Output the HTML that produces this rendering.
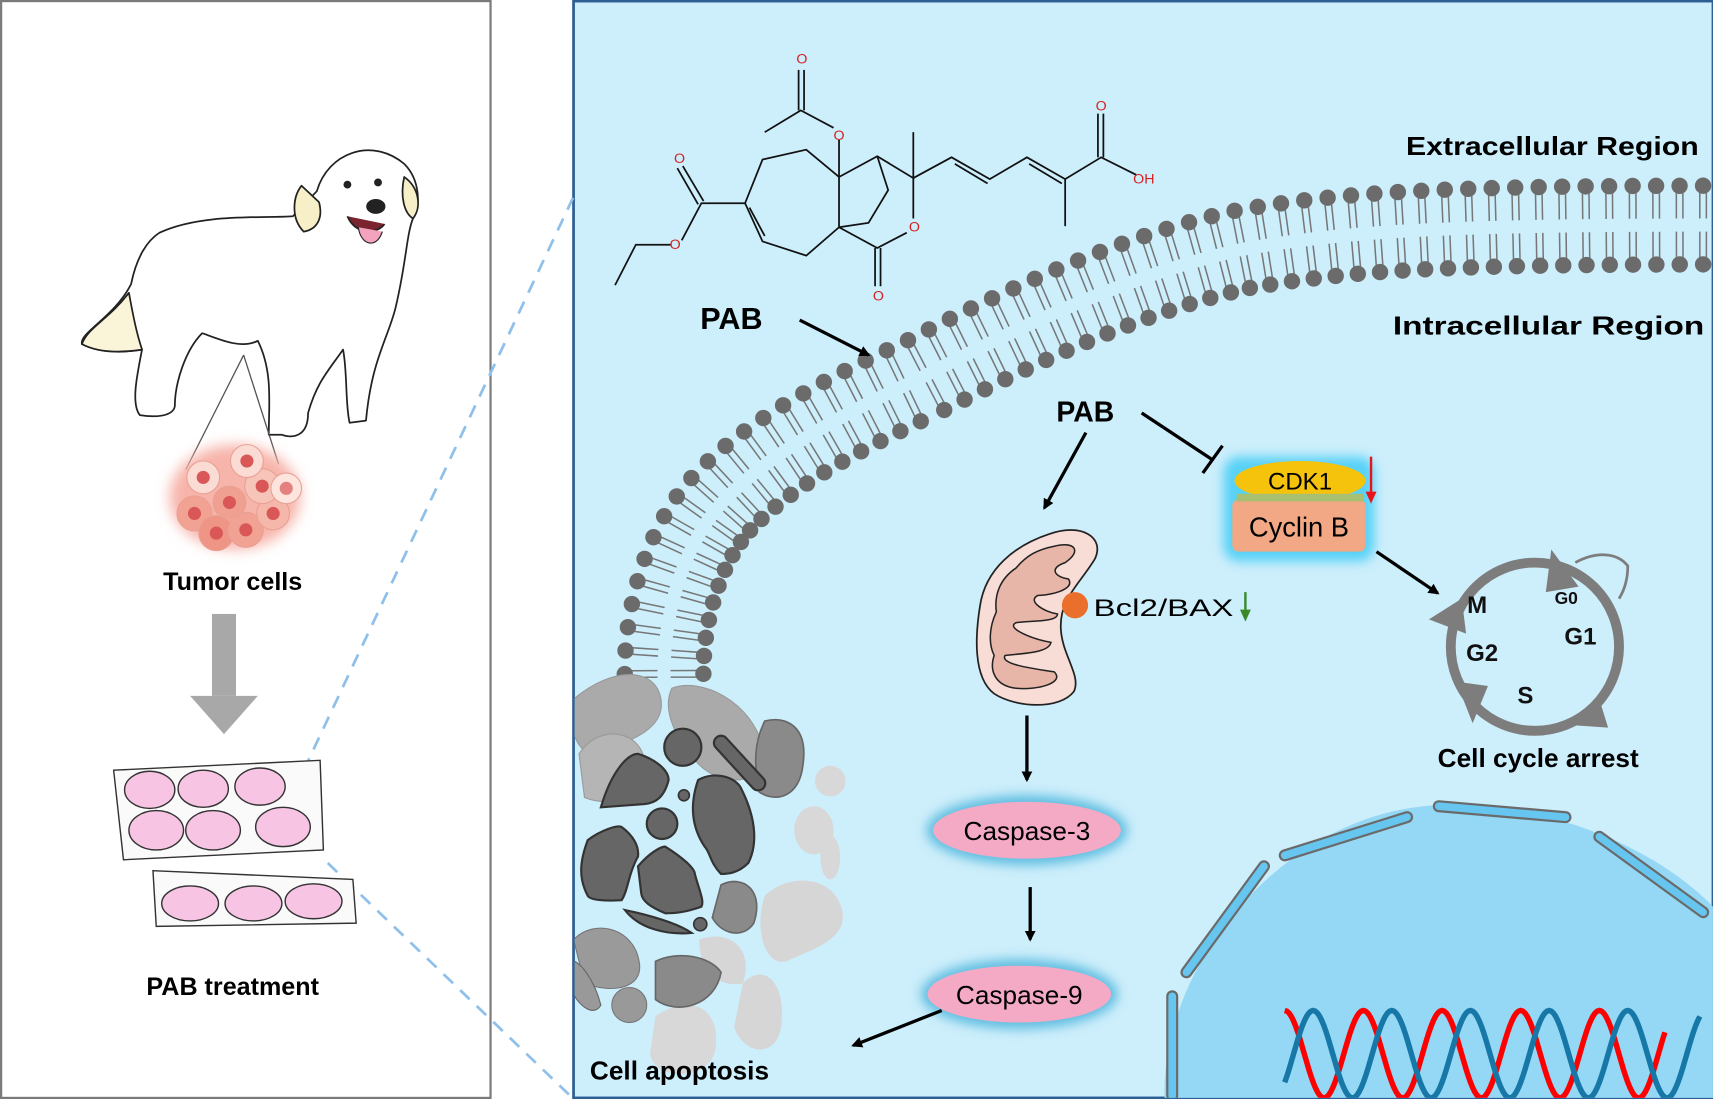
<!DOCTYPE html>
<html><head><meta charset="utf-8"><style>
html,body{margin:0;padding:0;background:#fff;}
svg{display:block;}
text{font-family:"Liberation Sans",Arial,sans-serif;}
</style></head><body>
<svg id="s" width="1713" height="1099" viewBox="0 0 1568 1006" xmlns="http://www.w3.org/2000/svg">
<defs>
<filter id="glow" x="-30%" y="-50%" width="160%" height="200%"><feGaussianBlur stdDeviation="5"/></filter>
<filter id="soft" x="-50%" y="-50%" width="200%" height="200%"><feGaussianBlur stdDeviation="6"/></filter>
<marker id="ah" markerWidth="10" markerHeight="10" refX="8" refY="5" orient="auto" markerUnits="userSpaceOnUse"><path d="M0,0 L10,5 L0,10 Z" fill="#000"/></marker>
<clipPath id="rc"><rect x="526" y="1" width="1042" height="1004"/></clipPath>
</defs>
<rect x="1" y="1" width="448" height="1004" fill="#fff" stroke="#7a7a7a" stroke-width="2"/>
<rect x="525" y="1" width="1043" height="1004" fill="#cdeefb" stroke="#2d5e94" stroke-width="2.5"/>
<line x1="278" y1="705" x2="525" y2="180" stroke="#8fc0ea" stroke-width="2.5" stroke-dasharray="12,9"/>
<line x1="300" y1="790" x2="525" y2="1006" stroke="#8fc0ea" stroke-width="2.5" stroke-dasharray="12,9"/>

<g stroke="#222" stroke-width="1.6" stroke-linejoin="round">
<path d="M146,213 C185,195 240,200 268,198 L290,175 C300,140 340,125 370,150 C385,165 385,190 378,200 C372,215 372,240 362,282 C355,310 340,330 335,385 L320,387 C316,370 318,340 314,320 C300,340 290,350 282,378 C282,398 270,402 258,398 L246,398 C246,370 250,340 236,312 C220,320 200,310 185,305 C170,320 160,350 160,372 C158,382 140,382 128,380 C120,370 125,345 130,320 C118,322 95,325 75,315 C72,305 105,290 120,260 C125,235 135,220 146,213 Z" fill="#fff"/>
<path d="M276,170 C268,180 266,200 278,212 C290,210 296,200 292,185 Z" fill="#f7efc8"/>
<path d="M370,162 C384,172 386,190 378,200 C370,195 366,180 370,162 Z" fill="#f7efc8"/>
<path d="M75,315 C80,300 100,292 118,268 C122,290 125,305 130,320 C110,323 90,323 75,315 Z" fill="#faf5d8"/>
<ellipse cx="344" cy="189" rx="8" ry="6" fill="#222"/>
<circle cx="318" cy="169" r="2.8" fill="#222"/>
<circle cx="346" cy="167" r="2.8" fill="#222"/>
<path d="M318,198 C325,215 345,215 352,205" fill="#7a2430"/>
<path d="M328,208 C330,225 345,228 350,212" fill="#f3a3bd" stroke-width="1"/>
</g>
<line x1="223" y1="325" x2="170" y2="430" stroke="#555" stroke-width="1.2"/>
<line x1="223" y1="325" x2="255" y2="425" stroke="#555" stroke-width="1.2"/>
<ellipse cx="215" cy="455" rx="60" ry="48" fill="#f7b4aa" filter="url(#soft)"/>
<g stroke="#e9a094" stroke-width="1">
<circle cx="178" cy="470" r="16" fill="#f1a292"/><circle cx="198" cy="488" r="16" fill="#ee9585"/>
<circle cx="225" cy="485" r="16" fill="#f1a292"/><circle cx="250" cy="470" r="15" fill="#f5b7a9"/>
<circle cx="210" cy="460" r="15" fill="#f0a090"/><circle cx="240" cy="445" r="16" fill="#f6c4b8"/>
<circle cx="186" cy="437" r="15" fill="#fbdcd4"/><circle cx="226" cy="422" r="15" fill="#fbdcd4"/>
<circle cx="262" cy="447" r="14" fill="#fde4dd"/>
</g>
<g fill="#d95757">
<circle cx="178" cy="470" r="6"/><circle cx="198" cy="488" r="6"/><circle cx="225" cy="485" r="6"/>
<circle cx="250" cy="470" r="6"/><circle cx="210" cy="460" r="6"/><circle cx="240" cy="445" r="6"/>
<circle cx="186" cy="437" r="6"/><circle cx="226" cy="422" r="6"/><circle cx="262" cy="447" r="6" fill="#e48080"/>
</g>
<text x="213" y="540" font-size="23" font-weight="bold" text-anchor="middle">Tumor cells</text>
<rect x="194" y="562" width="22" height="75" fill="#a8a8a8"/>
<path d="M174,637 L236,637 L205,672 Z" fill="#a8a8a8"/>
<g stroke="#333" stroke-width="1.3">
<path d="M140,797 L323,805 L326,845 L143,848 Z" fill="#fafafa"/>
<ellipse cx="174" cy="827" rx="26" ry="16" fill="#f7c4e4"/><ellipse cx="232" cy="827" rx="26" ry="16" fill="#f7c4e4"/><ellipse cx="287" cy="825" rx="26" ry="16" fill="#f7c4e4"/>
<path d="M104,705 L293,696 L296,778 L113,787 Z" fill="#fafafa"/>
<ellipse cx="137" cy="723" rx="23" ry="17" fill="#f7c4e4"/><ellipse cx="186" cy="722" rx="23" ry="17" fill="#f7c4e4"/><ellipse cx="238" cy="720" rx="23" ry="17" fill="#f7c4e4"/>
<ellipse cx="143" cy="760" rx="25" ry="18" fill="#f7c4e4"/><ellipse cx="195" cy="760" rx="25" ry="18" fill="#f7c4e4"/><ellipse cx="259" cy="757" rx="25" ry="18" fill="#f7c4e4"/>
</g>
<text x="213" y="911" font-size="23" font-weight="bold" text-anchor="middle">PAB treatment</text>

<g clip-path="url(#rc)">
<path d="M1066,1006 C1062,880 1180,740 1320,737 C1440,735 1530,790 1568,830 L1568,1006 Z" fill="#94d8f5"/>
<g stroke="#6a6a6a" stroke-width="11" stroke-linecap="round">
<line x1="1073" y1="912" x2="1073" y2="1003"/><line x1="1086" y1="890" x2="1157" y2="793"/>
<line x1="1176" y1="783" x2="1288" y2="748"/><line x1="1317" y1="738" x2="1433" y2="748"/>
<line x1="1464" y1="766" x2="1559" y2="835"/>
</g>
<g stroke="#66c6ef" stroke-width="7" stroke-linecap="round">
<line x1="1073" y1="912" x2="1073" y2="1003"/><line x1="1086" y1="890" x2="1157" y2="793"/>
<line x1="1176" y1="783" x2="1288" y2="748"/><line x1="1317" y1="738" x2="1433" y2="748"/>
<line x1="1464" y1="766" x2="1559" y2="835"/>
</g>
<path id="dnaR" fill="none" stroke="#f00" stroke-width="5"/>
<path id="dnaB" fill="none" stroke="#1777a6" stroke-width="5"/>

<path id="mem" d="M572,625 C570,560 590,480 640,430 C690,380 760,345 830,312 C930,260 1030,215 1130,193 C1230,175 1330,170 1580,170" fill="none" stroke="none"/>
<g id="memg"></g>

<g>
<ellipse cx="760" cy="715" rx="14" ry="14" fill="#d8d8d8"/>
<ellipse cx="745" cy="760" rx="18" ry="22" fill="#d8d8d8"/>
<ellipse cx="760" cy="785" rx="9" ry="20" fill="#d8d8d8"/>
<path d="M700,820 C720,800 760,800 770,830 C780,860 740,870 720,880 C700,885 690,850 700,820 Z" fill="#d6d6d6"/>
<path d="M680,900 C700,880 720,900 715,940 C710,970 680,965 672,940 Z" fill="#d6d6d6"/>
<path d="M600,930 C630,910 660,920 655,960 C650,990 600,990 595,965 Z" fill="#d8d8d8"/>
<path d="M640,860 C670,850 690,870 680,900 C660,905 640,890 640,860 Z" fill="#d6d6d6"/>
<path d="M525,640 C560,610 600,610 605,640 C610,670 570,680 545,690 C525,690 520,660 525,640 Z" fill="#aaa" stroke="#999"/>
<path d="M530,690 C550,660 590,670 590,700 C590,730 560,740 535,730 Z" fill="#b5b5b5" stroke="#999"/>
<path d="M615,630 C640,620 690,640 700,690 C700,720 660,720 640,700 C620,680 605,650 615,630 Z" fill="#aaa" stroke="#999"/>
<path d="M700,660 C720,655 740,665 735,700 C732,730 710,735 695,725 C690,700 690,680 700,660 Z" fill="#8a8a8a" stroke="#666" stroke-width="1.5"/>
<path d="M525,860 C545,840 580,850 585,880 C590,905 560,910 535,900 Z" fill="#9a9a9a" stroke="#777"/>
<path d="M600,880 C620,870 650,875 660,890 C655,920 620,930 600,915 Z" fill="#8a8a8a" stroke="#666" stroke-width="1.5"/>
<path d="M660,810 C680,800 700,815 690,845 C680,860 660,855 652,840 Z" fill="#8a8a8a" stroke="#666" stroke-width="1.5"/>
<ellipse cx="576" cy="920" rx="16" ry="16" fill="#999" stroke="#777"/>
<path d="M520,880 C530,875 545,900 550,920 C545,930 530,925 520,900 Z" fill="#999" stroke="#666"/>
<path d="M550,739 C560,705 575,690 584,690 C600,695 612,705 612,714 C608,730 600,735 590,736 Z" fill="#666" stroke="#333" stroke-width="2"/>
<circle cx="625" cy="684" r="17" fill="#666" stroke="#333" stroke-width="2"/>
<path d="M639,714 C655,705 675,712 679,723 C690,745 695,770 685,790 C675,800 665,800 660,800 C650,790 650,780 645,775 C635,760 630,740 639,714 Z" fill="#666" stroke="#333" stroke-width="2"/>
<path d="M538,769 C550,760 565,755 569,757 C580,765 585,775 584,784 C575,800 575,815 569,824 C555,825 540,824 538,820 C530,805 530,790 538,769 Z" fill="#666" stroke="#333" stroke-width="2"/>
<path d="M584,793 C595,780 605,775 609,775 C625,785 636,795 636,800 C640,815 645,825 642,830 C625,836 615,836 609,836 C595,830 588,825 587,818 Z" fill="#666" stroke="#333" stroke-width="2"/>
<path d="M572,833 C595,838 620,845 633,854 C610,856 585,850 572,833 Z" fill="#666" stroke="#333" stroke-width="2"/>
<circle cx="606" cy="754" r="14" fill="#666" stroke="#333" stroke-width="2"/>
<path d="M660,680 L694,717" stroke="#333" stroke-width="15" stroke-linecap="round"/>
<path d="M660,680 L694,717" stroke="#666" stroke-width="11" stroke-linecap="round"/>
<circle cx="626" cy="728" r="5" fill="#666" stroke="#333" stroke-width="1.5"/>
<circle cx="641" cy="846" r="6" fill="#666" stroke="#333" stroke-width="1.5"/>
</g>
</g>

<g stroke="#111" stroke-width="1.6" fill="none">
<polyline points="700,121 733,101 763,117"/>
<line x1="731" y1="101" x2="731" y2="64"/><line x1="736" y1="101" x2="736" y2="64"/>
<line x1="768" y1="128" x2="768" y2="162"/>
<polyline points="768,162 738,137 698,146 682,186 698,221 738,234 768,208 768,162 803,143 836,163 836,121"/>
<line x1="686" y1="190" x2="700" y2="216"/>
<polyline points="803,143 813,174 795,204 768,208"/>
<line x1="836" y1="163" x2="836" y2="200"/>
<polyline points="830,213 803,227 768,208"/>
<line x1="801" y1="227" x2="801" y2="262"/><line x1="806" y1="227" x2="806" y2="262"/>
<polyline points="682,186 642,186 624,220"/>
<line x1="639" y1="187" x2="620" y2="154"/><line x1="644" y1="184" x2="625" y2="152"/>
<polyline points="614,224 582,224 563,261"/>
<polyline points="836,163 871,144 906,164 940,144 975,164 1008,144 1040,160"/>
<line x1="874" y1="150" x2="904" y2="168"/><line x1="942" y1="150" x2="972" y2="168"/>
<line x1="975" y1="164" x2="975" y2="207"/>
<line x1="1005" y1="144" x2="1005" y2="104"/><line x1="1010" y1="144" x2="1010" y2="104"/>
</g>
<g fill="#d42020" font-size="13" text-anchor="middle">
<text x="734" y="58">O</text><text x="768" y="128">O</text><text x="622" y="149">O</text><text x="618" y="228">O</text>
<text x="837" y="212">O</text><text x="804" y="275">O</text><text x="1008" y="101">O</text><text x="1047" y="168">OH</text>
</g>

<text x="1287" y="142" font-size="24" font-weight="bold" textLength="268" lengthAdjust="spacingAndGlyphs">Extracellular Region</text>
<text x="1275" y="306" font-size="24" font-weight="bold" textLength="285" lengthAdjust="spacingAndGlyphs">Intracellular Region</text>
<text x="641" y="301" font-size="28" font-weight="bold">PAB</text>
<line x1="732" y1="293" x2="795" y2="325" stroke="#000" stroke-width="3" marker-end="url(#ah)"/>
<text x="967" y="386" font-size="26" font-weight="bold">PAB</text>
<line x1="994" y1="396" x2="956" y2="465" stroke="#000" stroke-width="3" marker-end="url(#ah)"/>
<line x1="1045" y1="378" x2="1110" y2="421" stroke="#000" stroke-width="3"/>
<line x1="1101" y1="433" x2="1119" y2="408" stroke="#000" stroke-width="3"/>

<rect x="1120" y="418" width="138" height="96" rx="14" fill="#57d1f7" filter="url(#glow)"/>
<rect x="1128" y="457" width="122" height="48" rx="6" fill="#f2a884"/>
<ellipse cx="1190" cy="440" rx="60" ry="18" fill="#f5c20c"/>
<rect x="1132" y="452" width="116" height="7" fill="#a8c070"/>
<text x="1190" y="448" font-size="22" text-anchor="middle">CDK1</text>
<text x="1189" y="491" font-size="25" text-anchor="middle">Cyclin B</text>
<line x1="1255" y1="418" x2="1255" y2="452" stroke="#e8141a" stroke-width="2.2"/>
<path d="M1250,450 L1260,450 L1255,461 Z" fill="#e8141a"/>
<line x1="1260" y1="505" x2="1316" y2="543" stroke="#000" stroke-width="3" marker-end="url(#ah)"/>

<circle cx="1405" cy="592" r="77" fill="none" stroke="#7d7d7d" stroke-width="9"/>
<path d="M1442,515 C1460,505 1480,505 1490,518 C1490,530 1487,540 1482,548" fill="none" stroke="#7d7d7d" stroke-width="2.5"/>
<g fill="#7d7d7d">
<path d="M1420,503 L1445,537 L1415,542 Z"/>
<path d="M1308,567 L1338,548 L1342,580 Z"/>
<path d="M1333,624 L1348,662 L1362,628 Z"/>
<path d="M1463,637 L1442,664 L1472,666 Z"/>
</g>
<g font-weight="bold" fill="#111">
<text x="1343" y="561" font-size="22">M</text><text x="1423" y="553" font-size="16">G0</text>
<text x="1432" y="590" font-size="22">G1</text><text x="1342" y="605" font-size="22">G2</text>
<text x="1389" y="644" font-size="22">S</text>
</g>
<text x="1408" y="702" font-size="24" font-weight="bold" text-anchor="middle">Cell cycle arrest</text>

<path d="M960,489 C990,478 1012,492 1002,512 C988,535 970,548 971,575 C972,600 990,618 983,633 C970,650 930,648 910,635 C890,620 893,580 897,555 C902,520 930,499 960,489 Z" fill="#f8dcd6" stroke="#222" stroke-width="1.6"/>
<path d="M965,500 C985,495 990,505 975,515 C960,520 965,528 978,530 C985,540 960,545 950,545 C940,550 955,560 968,562 C968,570 940,568 930,570 C920,575 945,585 962,588 C960,598 935,598 920,600 C915,608 945,612 965,615 C975,625 950,632 930,630 C912,628 905,615 910,600 C905,590 905,575 912,560 C910,545 915,530 930,520 C940,508 950,503 965,500 Z" fill="#e8b6a8" stroke="#222" stroke-width="1.4"/>
<circle cx="984" cy="554" r="12" fill="#ea6f2d"/>
<text x="1001" y="564" font-size="22" textLength="128" lengthAdjust="spacingAndGlyphs">Bcl2/BAX</text>
<line x1="1140" y1="542" x2="1140" y2="560" stroke="#3a8a2a" stroke-width="2.2"/>
<path d="M1135,558 L1145,558 L1140,569 Z" fill="#3a8a2a"/>

<line x1="940" y1="655" x2="940" y2="714" stroke="#000" stroke-width="3" marker-end="url(#ah)"/>
<ellipse cx="940" cy="760" rx="92" ry="32" fill="#5fbde0" filter="url(#glow)"/>
<ellipse cx="940" cy="760" rx="86" ry="26" fill="#f4a9c5"/>
<text x="940" y="769" font-size="24" text-anchor="middle">Caspase-3</text>
<line x1="943" y1="812" x2="943" y2="860" stroke="#000" stroke-width="3" marker-end="url(#ah)"/>
<ellipse cx="933" cy="910" rx="90" ry="32" fill="#5fbde0" filter="url(#glow)"/>
<ellipse cx="933" cy="910" rx="84" ry="26" fill="#f4a9c5"/>
<text x="933" y="919" font-size="24" text-anchor="middle">Caspase-9</text>
<line x1="862" y1="925" x2="781" y2="957" stroke="#000" stroke-width="3" marker-end="url(#ah)"/>
<text x="540" y="988" font-size="24" font-weight="bold">Cell apoptosis</text>
</svg>
<script>
(function(){
var NS="http://www.w3.org/2000/svg";
var p=document.getElementById("mem"),g=document.getElementById("memg");
var L=p.getTotalLength();
function mk(t,a){var e=document.createElementNS(NS,t);for(var k in a)e.setAttribute(k,a[k]);return e;}
var off=72,step=21.5;
for(var s=8;s<L;s+=step){
 var a=p.getPointAtLength(s),b=p.getPointAtLength(Math.min(L,s+1)),c=p.getPointAtLength(Math.max(0,s-1));
 var tx=b.x-c.x,ty=b.y-c.y,n=Math.hypot(tx,ty);tx/=n;ty/=n;
 var nx=-ty,ny=tx;
 if(nx+ny<0){nx=-nx;ny=-ny;}
 var ox=a.x,oy=a.y,ix=a.x+nx*off,iy=a.y+ny*off;
 var px=-ny*3,py=nx*3;
 [[ox,oy,1],[ix,iy,-1]].forEach(function(h){
  var d=h[2];
  for(var k=-1;k<=1;k+=2){
   g.appendChild(mk("line",{x1:h[0]+px*k+nx*d*6,y1:h[1]+py*k+ny*d*6,x2:h[0]+px*k+nx*d*30,y2:h[1]+py*k+ny*d*30,stroke:"#777","stroke-width":1.4}));
  }
  g.appendChild(mk("circle",{cx:h[0],cy:h[1],r:7.5,fill:"#6b6b6b"}));
 });
}
function wave(id,x0,x1,ph,amp,cy){
 var d="";for(var x=x0;x<=x1;x+=2){var y=cy+amp*Math.sin((x-ph)*2*Math.PI/72);d+=(x==x0?"M":"L")+x+","+y.toFixed(1);}
 document.getElementById(id).setAttribute("d",d);
}
wave("dnaR",1176,1524,1194,40,965);
wave("dnaB",1176,1556,1220,40,965);
})();
</script>
</body></html>
